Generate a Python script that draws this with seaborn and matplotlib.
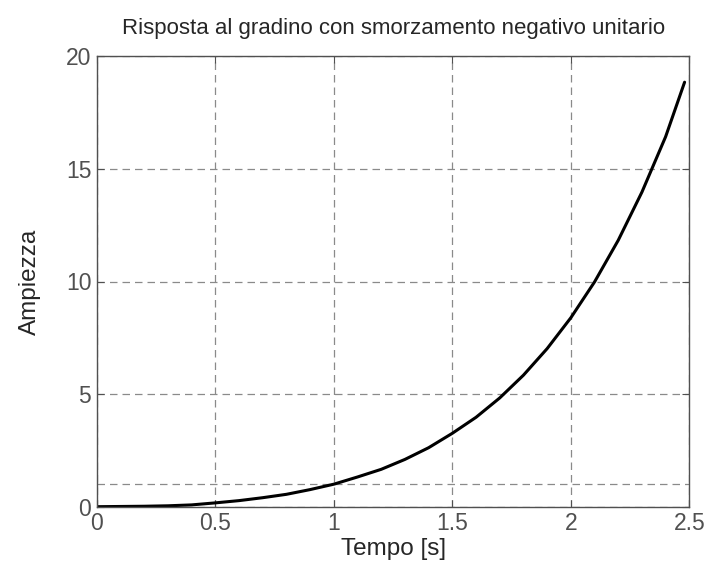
import numpy as np
import matplotlib
matplotlib.use("Agg")
import matplotlib.pyplot as plt
import pandas as pd
import seaborn as sns

tempo = [0.0, 0.1, 0.2, 0.3, 0.4, 0.5, 0.6, 0.7, 0.8, 0.9, 1.0, 1.1, 1.2,
         1.3, 1.4, 1.5, 1.6, 1.7, 1.8, 1.9, 2.0, 2.1, 2.2, 2.3, 2.4, 2.48]
ampiezza = [0.0, 0.01, 0.02, 0.04, 0.08, 0.17, 0.27, 0.40, 0.55, 0.76, 1.0,
            1.32, 1.66, 2.10, 2.62, 3.26, 3.97, 4.83, 5.84, 7.02, 8.39,
            9.98, 11.83, 13.97, 16.43, 18.85]
livello_regime = 1.0
x_ticks = [0, 0.5, 1, 1.5, 2, 2.5]
y_ticks = [0, 5, 10, 15, 20]

sns.set_style("ticks")
plt.rcParams['font.family'] = ['Liberation Sans', 'DejaVu Sans']

df = pd.DataFrame({'Tempo': tempo, 'Ampiezza': ampiezza})

fig, ax = plt.subplots(figsize=(7.07, 5.63), dpi=100)
plt.subplots_adjust(left=0.137, right=0.975, top=0.9, bottom=0.1)

grey = '#505050'
ax.grid(True, color='#8a8a8a', linestyle=(0, (6, 4)), linewidth=0.9)
ax.axhline(livello_regime, color='#8a8a8a', linestyle=(0, (6, 4)), linewidth=0.9)
sns.lineplot(data=df, x='Tempo', y='Ampiezza', ax=ax, color='black', linewidth=2.2)

ax.set_xlim(0, 2.5)
ax.set_ylim(0, 20)
ax.set_xticks(x_ticks)
ax.set_xticklabels(['0', '0.5', '1', '1.5', '2', '2.5'])
ax.set_yticks(y_ticks)
ax.tick_params(direction='in', length=5, width=0.8, colors=grey, labelsize=16.5,
               top=True, right=True, pad=4)
ax.tick_params(axis='x', pad=4)
for s in ax.spines.values():
    s.set_color(grey)
    s.set_linewidth(1.0)

ax.set_title('Risposta al gradino con smorzamento negativo unitario', fontsize=16, pad=16)
ax.set_xlabel('Tempo [s]', fontsize=17.5, va='center')
ax.xaxis.set_label_coords(0.5, -0.093)
ax.set_ylabel('Ampiezza', fontsize=17.5, labelpad=18)

plt.savefig('out.png', dpi=100)
